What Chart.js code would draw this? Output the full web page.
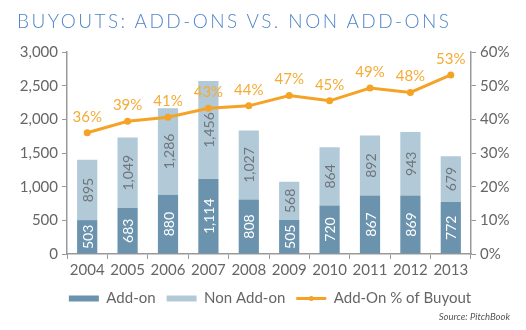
<!DOCTYPE html>
<html lang="en">
<head>
    <meta charset="UTF-8">
    <title>Buyouts: Add-ons vs. Non Add-ons</title>
    <script src="https://cdn.jsdelivr.net/npm/chart.js"></script>
    <style>
        body {
            margin: 0;
            background: #fff;
        }
        .wrap {
            position: relative;
            width: 526px;
            height: 330px;
        }
        .title {
            position: absolute;
            left: 17px;
            top: 9px;
            font-family: Lato, sans-serif;
            font-weight: 300;
            font-size: 19px;
            letter-spacing: 2.45px;
            color: #4f86c9;
            white-space: nowrap;
        }
        .source {
            position: absolute;
            right: 16px;
            top: 311px;
            font-family: Lato, sans-serif;
            font-style: italic;
            font-size: 9.5px;
            color: #555;
        }
    </style>
</head>
<body>
    <div class="wrap">
        <canvas id="chart" width="526" height="330"></canvas>
        <div class="title">BUYOUTS: ADD-ONS VS. NON ADD-ONS</div>
        <div class="source">Source: PitchBook</div>
    </div>

    <script>
        const years = ['2004', '2005', '2006', '2007', '2008', '2009', '2010', '2011', '2012', '2013'];
        const addOn = [503, 683, 880, 1114, 808, 505, 720, 867, 869, 772];
        const nonAddOn = [895, 1049, 1286, 1456, 1027, 568, 864, 892, 943, 679];
        const addOnPct = [36.0, 39.4, 40.6, 43.3, 44.0, 47.1, 45.5, 49.3, 48.0, 53.2];
        const pctLabels = ['36%', '39%', '41%', '43%', '44%', '47%', '45%', '49%', '48%', '53%'];

        const darkBlue = '#6b93ae';
        const lightBlue = '#b2c9d8';
        const orange = '#f4a326';
        const grey = '#666';
        const axisGrey = '#999';
        const fontFamily = 'Lato, sans-serif';

        // numbers inside the bars and the % labels over the line
        const valueLabels = {
            id: 'valueLabels',
            afterDatasetsDraw(chart) {
                const ctx = chart.ctx;
                ctx.save();
                ctx.font = '14px ' + fontFamily;
                ctx.textAlign = 'center';
                ctx.textBaseline = 'middle';
                [0, 1].forEach(i => {
                    const meta = chart.getDatasetMeta(i);
                    const data = chart.data.datasets[i].data;
                    meta.data.forEach((bar, j) => {
                        const mid = (bar.y + bar.base) / 2;
                        ctx.save();
                        ctx.translate(bar.x, mid);
                        ctx.rotate(-Math.PI / 2);
                        ctx.fillStyle = i === 0 ? '#fff' : '#6f757a';
                        ctx.fillText(data[j].toLocaleString('en-US'), 0, 1);
                        ctx.restore();
                    });
                });
                const lineMeta = chart.getDatasetMeta(2);
                ctx.font = '15px ' + fontFamily;
                ctx.fillStyle = '#f5ab35';
                lineMeta.data.forEach((pt, j) => {
                    ctx.fillText(pctLabels[j], pt.x, pt.y - 16);
                });
                ctx.restore();
            },
            afterDraw(chart) {
                // dot on the line legend marker
                const boxes = chart.legend.legendHitBoxes;
                const items = chart.legend.legendItems;
                const k = items.findIndex(it => it.datasetIndex === 2);
                if (k < 0 || !boxes[k]) return;
                const b = boxes[k];
                const ctx = chart.ctx;
                ctx.save();
                ctx.fillStyle = orange;
                ctx.beginPath();
                ctx.arc(b.left + 15, b.top + 7.5, 2.5, 0, Math.PI * 2);
                ctx.fill();
                ctx.restore();
            }
        };

        new Chart(document.getElementById('chart'), {
            type: 'bar',
            data: {
                labels: years,
                datasets: [
                    {
                        label: 'Add-on',
                        data: addOn,
                        backgroundColor: darkBlue,
                        yAxisID: 'y',
                        order: 2
                    },
                    {
                        label: 'Non Add-on',
                        data: nonAddOn,
                        backgroundColor: lightBlue,
                        yAxisID: 'y',
                        order: 2
                    },
                    {
                        type: 'line',
                        label: 'Add-On % of Buyout',
                        data: addOnPct,
                        borderColor: orange,
                        backgroundColor: orange,
                        borderWidth: 3,
                        pointRadius: 3.5,
                        pointBackgroundColor: orange,
                        pointBorderWidth: 0,
                        yAxisID: 'y1',
                        order: 1
                    }
                ]
            },
            options: {
                responsive: false,
                animation: false,
                datasets: {
                    bar: { barPercentage: 0.5, categoryPercentage: 1 }
                },
                layout: {
                    padding: { top: 52, left: 14, right: 0, bottom: 14 }
                },
                scales: {
                    x: {
                        stacked: true,
                        grid: {
                            drawOnChartArea: false,
                            drawTicks: true,
                            tickLength: 5,
                            color: axisGrey
                        },
                        border: { color: axisGrey, width: 1.5 },
                        ticks: {
                            color: grey,
                            font: { family: fontFamily, size: 15 },
                            padding: 2,
                            maxRotation: 0,
                            autoSkip: false
                        },
                        afterFit: s => { s.height = 26; }
                    },
                    y: {
                        stacked: true,
                        position: 'left',
                        min: 0,
                        max: 3000,
                        grid: {
                            drawOnChartArea: false,
                            tickLength: 5,
                            color: axisGrey
                        },
                        border: { color: axisGrey, width: 1.5 },
                        ticks: {
                            stepSize: 500,
                            color: grey,
                            font: { family: fontFamily, size: 15 },
                            padding: 4,
                            callback: v => v.toLocaleString('en-US')
                        },
                        afterFit: s => { s.width = 53; }
                    },
                    y1: {
                        position: 'right',
                        min: 0,
                        max: 60,
                        grid: {
                            drawOnChartArea: false,
                            tickLength: 5,
                            color: axisGrey
                        },
                        border: { color: axisGrey, width: 1.5 },
                        ticks: {
                            stepSize: 10,
                            color: grey,
                            font: { family: fontFamily, size: 15 },
                            padding: 4,
                            callback: v => v + '%'
                        },
                        afterFit: s => { s.width = 55; }
                    }
                },
                plugins: {
                    legend: {
                        position: 'bottom',
                        labels: {
                            color: grey,
                            font: { family: fontFamily, size: 15 },
                            usePointStyle: true,
                            pointStyleWidth: 30,
                            boxHeight: 6,
                            padding: 11,
                            generateLabels(chart) {
                                const items = Chart.defaults.plugins.legend.labels.generateLabels(chart);
                                items.sort((a, b) => a.datasetIndex - b.datasetIndex);
                                items.forEach(it => {
                                    if (it.datasetIndex < 2) {
                                        it.pointStyle = 'rect';
                                        it.lineWidth = 0;
                                        it.strokeStyle = it.fillStyle;
                                    } else {
                                        it.pointStyle = 'line';
                                        it.strokeStyle = orange;
                                        it.lineWidth = 3;
                                    }
                                });
                                return items;
                            }
                        }
                    },
                    tooltip: { enabled: false }
                }
            },
            plugins: [valueLabels]
        });
    </script>
</body>
</html>
